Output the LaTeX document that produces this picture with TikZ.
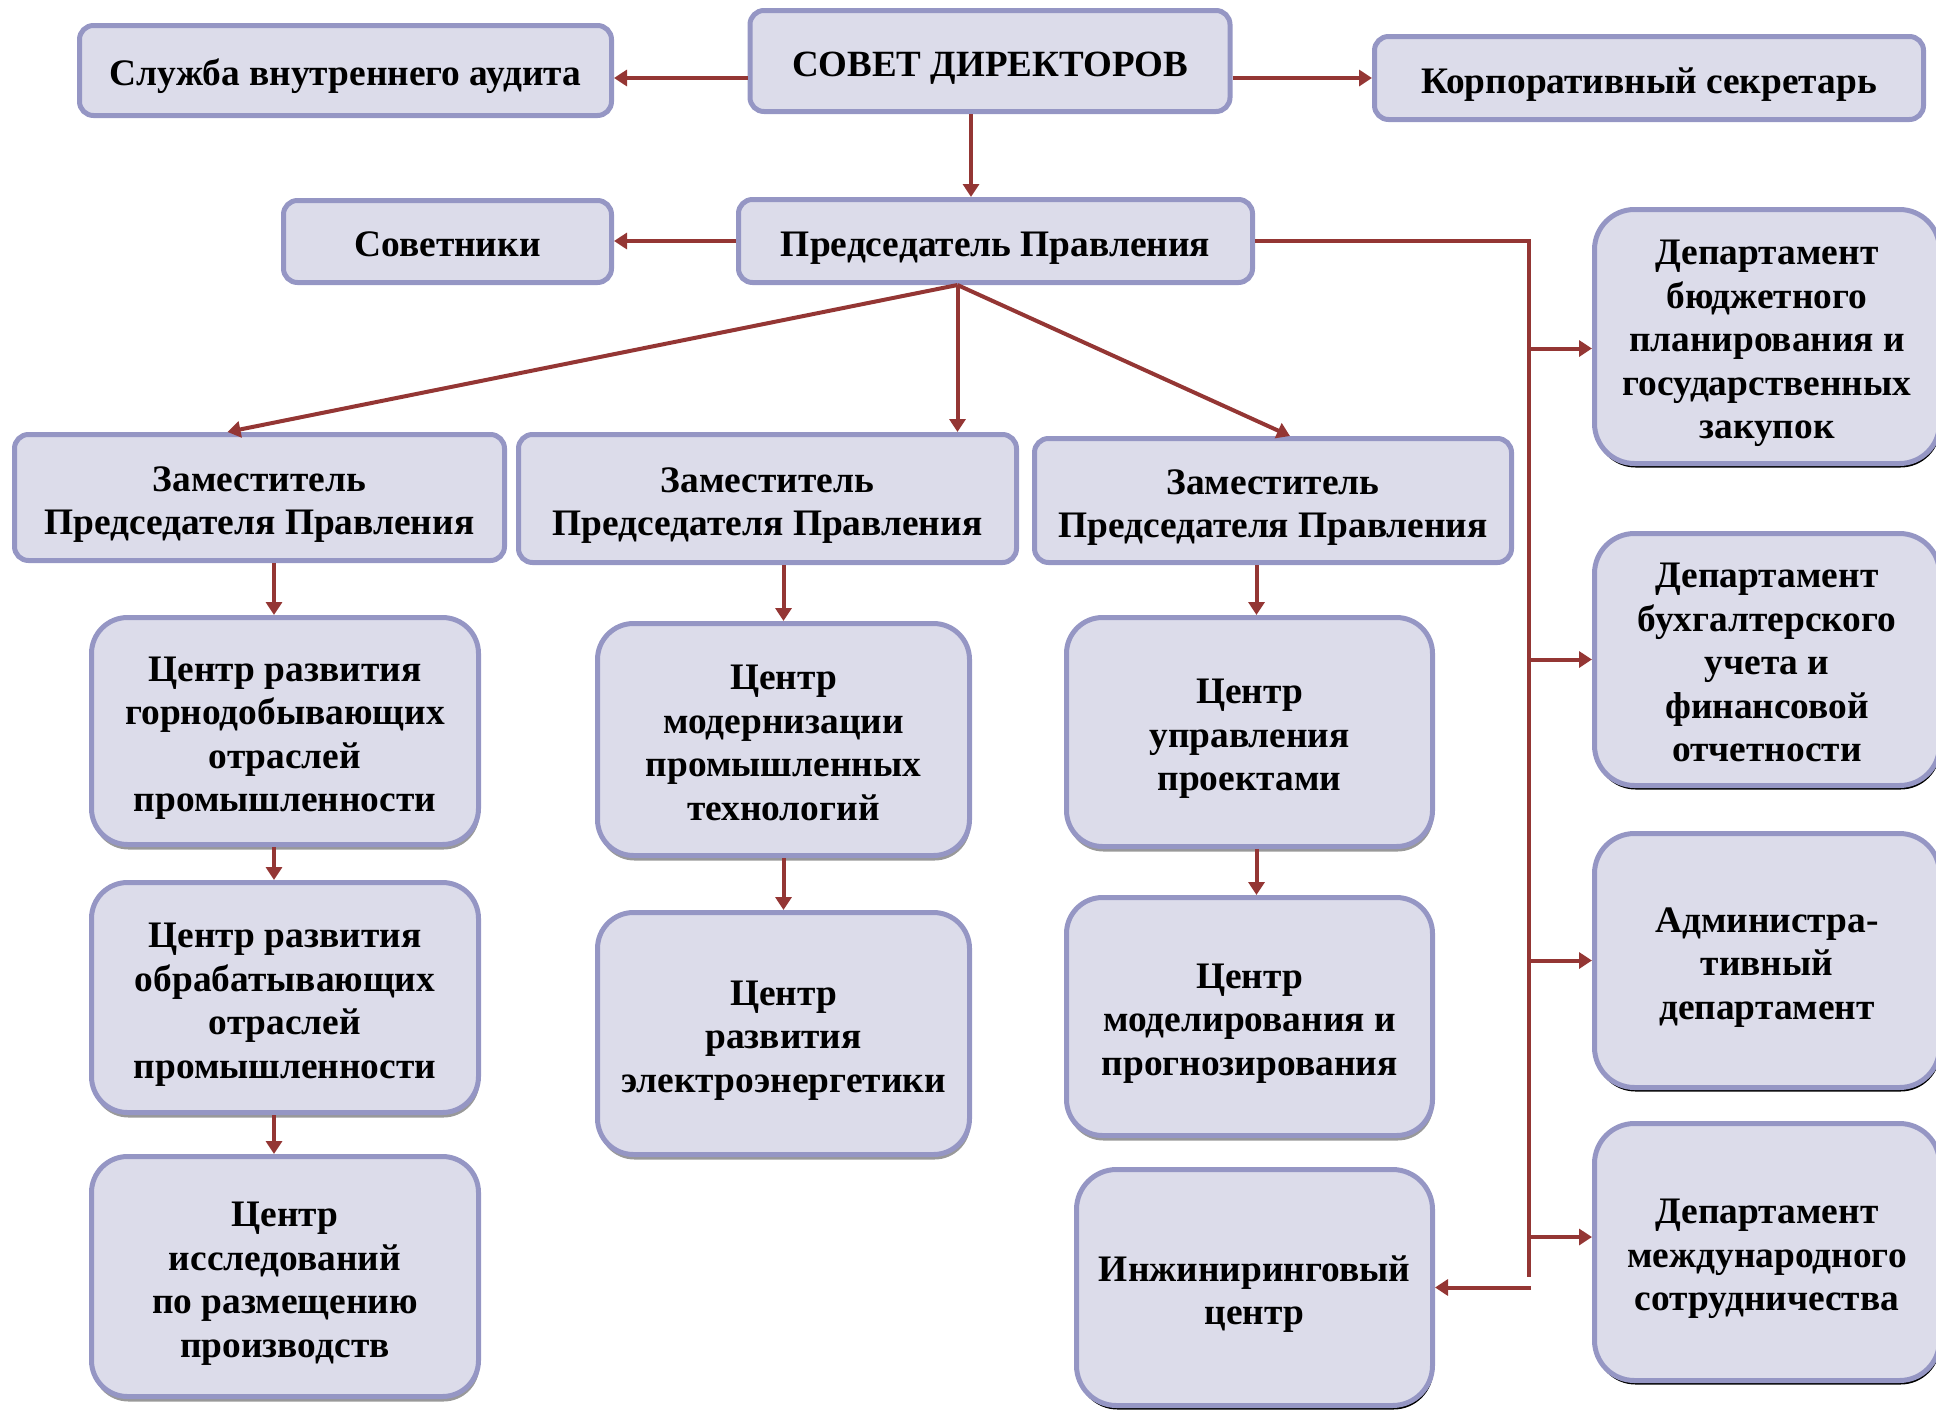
\documentclass[tikz,border=0pt]{standalone}
\usepackage{fontspec}
\setmainfont{Liberation Serif}
\usetikzlibrary{arrows.meta,shadows}

\definecolor{boxfill}{HTML}{DCDCEA}
\definecolor{boxline}{HTML}{9596C4}
\definecolor{linkred}{HTML}{943634}

\newcommand{\linetop}{\rule{0pt}{40.5pt}}

\tikzset{
  topbox/.style={draw=boxline, fill=boxfill, line width=5pt, rounded corners=14pt,
    align=center, inner sep=0pt, font=\fontsize{37.4}{43.5}\selectfont\bfseries,
    execute at end node={\rule[-10pt]{0pt}{10pt}}},
  centerbox/.style={topbox, rounded corners=36pt,
    drop shadow={shadow xshift=1pt, shadow yshift=-5pt, fill=gray!80, opacity=1}},
  deptbox/.style={topbox, rounded corners=40pt,
    drop shadow={shadow xshift=1pt, shadow yshift=-4pt, fill=black, opacity=1}},
  redline/.style={draw=linkred, line width=4pt},
  redarrow/.style={redline, -{Triangle[length=13pt,width=16pt]}},
}

\begin{document}
\begin{tikzpicture}[x=1pt, y=-1pt]
\useasboundingbox (0,0) rectangle (1936,1409);

% top rows
\node[topbox, minimum width=480pt, minimum height=101pt, font=\fontsize{37}{43}\selectfont\bfseries] (sovet) at (990,61) {\linetop СОВЕТ ДИРЕКТОРОВ};
\node[topbox, minimum width=532pt, minimum height=90pt] (audit) at (345.5,70.5) {\linetop Служба внутреннего аудита};
\node[topbox, minimum width=549pt, minimum height=83pt] (secr) at (1649,78) {\linetop Корпоративный секретарь};
\node[topbox, minimum width=514pt, minimum height=83pt] (pred) at (995.5,241) {\linetop Председатель Правления};
\node[topbox, minimum width=328pt, minimum height=82pt] (sovetniki) at (447.5,241.5) {\linetop Советники};

\draw[redarrow] ([yshift=-17pt]sovet.west) -- ([yshift=-17pt]sovet.west -| audit.east);
\draw[redarrow] ([yshift=-17pt]sovet.east) -- ([yshift=-17pt]sovet.east -| secr.west);
\draw[redarrow] ([xshift=-19pt]sovet.south) -- ([xshift=-19pt]sovet.south |- pred.north);
\draw[redarrow] (pred.west) -- (pred.west -| sovetniki.east);

% deputies
\node[topbox, minimum width=490pt, minimum height=126pt] (zam1) at (259.5,497.5) {\linetop Заместитель\\Председателя Правления};
\node[topbox, minimum width=498pt, minimum height=128pt] (zam2) at (767.5,498.5) {\linetop Заместитель\\Председателя Правления};
\node[topbox, minimum width=477pt, minimum height=124pt] (zam3) at (1273,500.5) {\linetop Заместитель\\Председателя Правления};

\coordinate (fork) at ([xshift=-38pt]pred.south);
\draw[redarrow] (fork) -- ([xshift=-32pt]zam1.north);
\draw[redarrow] (fork) -- (fork |- zam2.north);
\draw[redarrow] (fork) -- ([xshift=17pt]zam3.north);

% left column
\node[centerbox, minimum width=387pt, minimum height=227pt] (gorno) at (285,731) {\linetop Центр развития\\горнодобывающих\\отраслей\\промышленности};
\node[centerbox, minimum width=387pt, minimum height=230pt] (obrab) at (285,997.5) {\linetop Центр развития\\обрабатывающих\\отраслей\\промышленности};
\node[centerbox, minimum width=387pt, minimum height=240pt] (issl) at (285,1276.5) {\linetop Центр\\исследований\\по размещению\\производств};

\draw[redarrow] ([xshift=-11pt]gorno.north |- zam1.south) -- ([xshift=-11pt]gorno.north);
\draw[redarrow] ([xshift=-11pt]gorno.south) -- ([xshift=-11pt]obrab.north);
\draw[redarrow] ([xshift=-11pt]obrab.south) -- ([xshift=-11pt]issl.north);

% middle column
\node[centerbox, minimum width=372pt, minimum height=232pt] (modern) at (783.5,739.5) {\linetop Центр\\модернизации\\промышленных\\технологий};
\node[centerbox, minimum width=372pt, minimum height=242pt] (elektro) at (783.5,1033.5) {\linetop Центр\\развития\\электроэнергетики};

\draw[redarrow] (modern.north |- zam2.south) -- (modern.north);
\draw[redarrow] (modern.south) -- (elektro.north);

% right column
\node[centerbox, minimum width=366pt, minimum height=229pt] (upravl) at (1249.5,732) {\linetop Центр\\управления\\проектами};
\node[centerbox, minimum width=366pt, minimum height=238pt] (model) at (1249.5,1016.5) {\linetop Центр\\моделирования и\\прогнозирования};
\node[deptbox, minimum width=356pt, minimum height=236pt] (inzh) at (1254.5,1287.5) {\linetop Инжиниринговый\\центр};

\draw[redarrow] ([xshift=7pt]upravl.north |- zam3.south) -- ([xshift=7pt]upravl.north);
\draw[redarrow] ([xshift=7pt]upravl.south) -- ([xshift=7pt]model.north);

% departments
\node[deptbox, minimum width=345pt, minimum height=254pt] (budget) at (1767,336.5) {\linetop Департамент\\бюджетного\\планирования и\\государственных\\закупок};
\node[deptbox, minimum width=345pt, minimum height=252pt] (buh) at (1767,659.5) {\linetop Департамент\\бухгалтерского\\учета и\\финансовой\\отчетности};
\node[deptbox, minimum width=345pt, minimum height=254pt] (admin) at (1767,960.5) {\linetop Администра-\\тивный\\департамент};
\node[deptbox, minimum width=345pt, minimum height=257pt] (mezhd) at (1767,1252) {\linetop Департамент\\международного\\сотрудничества};

\coordinate (busend) at (1529,1277);
\draw[redline] (pred.east) -| (busend);
\draw[redarrow] ([yshift=-12pt]budget.west -| busend) -- ([yshift=-12pt]budget.west);
\draw[redarrow] (buh.west -| busend) -- (buh.west);
\draw[redarrow] (admin.west -| busend) -- (admin.west);
\draw[redarrow] ([yshift=15pt]mezhd.west -| busend) -- ([yshift=15pt]mezhd.west);
\draw[redarrow] ([xshift=2pt]busend |- inzh.east) -- (inzh.east);

\end{tikzpicture}
\end{document}
